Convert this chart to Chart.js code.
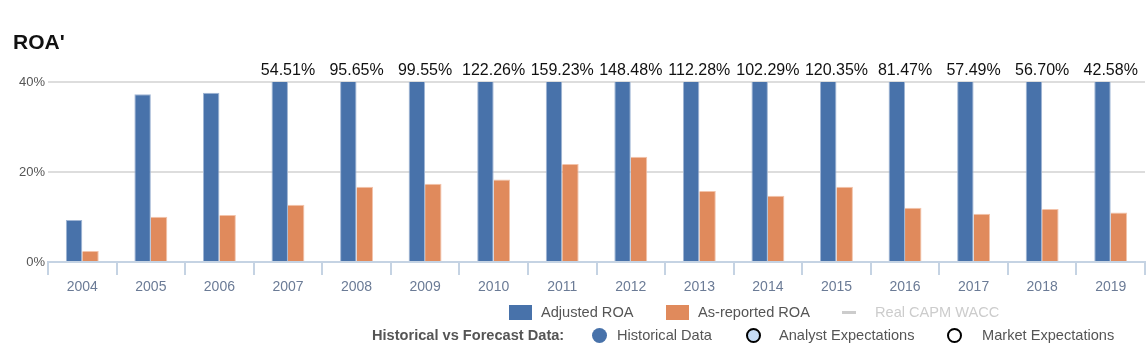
<!DOCTYPE html>
<html>
<head>
<meta charset="utf-8">
<script src="https://cdn.jsdelivr.net/npm/chart.js@4.4.1/dist/chart.umd.min.js"></script>
<style>
  html, body { margin: 0; padding: 0; background: #fff; }
  #wrap { position: relative; width: 1147px; height: 348px; font-family: "Liberation Sans", Arial, sans-serif; }
  #roa-chart { position: absolute; left: 0; top: 0; }
  .title { position: absolute; left: 13px; top: 31px; font-family: "Liberation Sans Narrow", "Liberation Sans", Arial, sans-serif; font-size: 21px; line-height: 21px; font-weight: 600; color: #111; }
  .leg { position: absolute; font-size: 14.6px; line-height: 16px; color: #555; white-space: nowrap; }
  .box { position: absolute; width: 23px; height: 15px; }
  .dot { position: absolute; width: 15px; height: 15px; border-radius: 50%; box-sizing: border-box; }
</style>
</head>
<body>
<div id="wrap">
  <canvas id="roa-chart" width="1147" height="348"></canvas>
  <div class="title">ROA'</div>

  <div class="box" style="left:509px; top:305px; background:#4872aa;"></div>
  <div class="leg" style="left:541px; top:304px;">Adjusted ROA</div>
  <div class="box" style="left:666px; top:305px; background:#e08a5c;"></div>
  <div class="leg" style="left:698px; top:304px;">As-reported ROA</div>
  <div style="position:absolute; left:842px; top:311px; width:14px; height:3px; background:#ccc;"></div>
  <div class="leg" style="left:875px; top:304px; color:#ccc;">Real CAPM WACC</div>

  <div class="leg" style="left:372px; top:327px; font-weight:bold;">Historical vs Forecast Data:</div>
  <div class="dot" style="left:592px; top:328px; background:#4872aa;"></div>
  <div class="leg" style="left:617px; top:327px;">Historical Data</div>
  <div class="dot" style="left:746px; top:328px; background:#c6dcf5; border:2.5px solid #000;"></div>
  <div class="leg" style="left:779px; top:327px;">Analyst Expectations</div>
  <div class="dot" style="left:947px; top:328px; background:#fff; border:2.5px solid #000;"></div>
  <div class="leg" style="left:982px; top:327px;">Market Expectations</div>
</div>

<script>
const years = ["2004", "2005", "2006", "2007", "2008", "2009", "2010", "2011",
  "2012", "2013", "2014", "2015", "2016", "2017", "2018", "2019"];
const adjustedRoa = [9.33, 37.3, 37.6, 54.51, 95.65, 99.55, 122.26, 159.23,
  148.48, 112.28, 102.29, 120.35, 81.47, 57.49, 56.70, 42.58];
const reportedRoa = [2.44, 10.07, 10.44, 12.7, 16.7, 17.4, 18.35, 21.8,
  23.4, 15.8, 14.7, 16.7, 12.07, 10.7, 11.8, 11.0];
const yTicks = [0, 20, 40];
const yMax = 40;

// values that run past the top of the axis get printed above their column
const overflowLabels = {
  id: "overflowLabels",
  afterDatasetsDraw(chart) {
    const ctx = chart.ctx;
    const x = chart.scales.x;
    const top = chart.chartArea.top;
    ctx.save();
    ctx.font = "16px 'Liberation Sans', Arial, sans-serif";
    ctx.fillStyle = "#111";
    ctx.textAlign = "center";
    ctx.textBaseline = "middle";
    adjustedRoa.forEach(function (v, i) {
      if (v > yMax) {
        ctx.fillText(v.toFixed(2) + "%", x.getPixelForValue(i), top - 11);
      }
    });
    ctx.restore();
  },
};

new Chart("roa-chart", {
  type: "bar",
  data: {
    labels: years,
    datasets: [
      {
        label: "Adjusted ROA",
        data: adjustedRoa,
        backgroundColor: "#4872aa",
        borderColor: "#9fb5d4",
        borderWidth: { top: 1, left: 1, right: 1, bottom: 0 },
        categoryPercentage: 0.48,
        barPercentage: 1,
      },
      {
        label: "As-reported ROA",
        data: reportedRoa,
        backgroundColor: "#e08a5c",
        borderColor: "#f3c3aa",
        borderWidth: { top: 1, left: 0, right: 1, bottom: 0 },
        categoryPercentage: 0.48,
        barPercentage: 1,
      },
    ],
  },
  options: {
    responsive: false,
    animation: false,
    layout: { padding: { top: 82, left: 0, right: 2, bottom: 46 } },
    plugins: {
      legend: { display: false },
      tooltip: { enabled: false },
    },
    scales: {
      x: {
        offset: true,
        afterFit: function (scale) { scale.height = 40; },
        border: { color: "#c5d3e3", width: 2 },
        grid: {
          offset: true,
          drawOnChartArea: false,
          tickLength: 13,
          color: "#c5d3e3",
          lineWidth: 2,
        },
        ticks: {
          color: "#6b7b96",
          padding: 4,
          font: { size: 14, family: "'Liberation Sans', Arial, sans-serif" },
        },
      },
      y: {
        min: 0,
        max: yMax,
        afterFit: function (scale) { scale.width = 48; },
        afterBuildTicks: function (scale) {
          scale.ticks = yTicks.map(function (v) { return { value: v }; });
        },
        border: { display: false },
        grid: { color: "#dddddd", lineWidth: 2, drawTicks: false },
        ticks: {
          color: "#555",
          padding: 3,
          font: { size: 13, family: "'Liberation Sans', Arial, sans-serif" },
          callback: function (v) { return v + "%"; },
        },
      },
    },
  },
  plugins: [overflowLabels],
});
</script>
</body>
</html>
